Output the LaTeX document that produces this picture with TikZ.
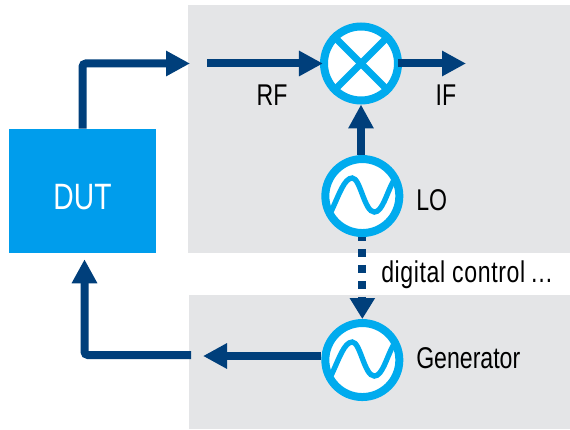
\documentclass[tikz,border=0pt]{standalone}
\usepackage{fontspec}
\setmainfont[FakeStretch=0.77]{Liberation Sans}
\usetikzlibrary{arrows.meta,automata,positioning}
\definecolor{panelgray}{HTML}{E4E5E7}
\definecolor{dutblue}{HTML}{009DEC}
\definecolor{ringblue}{HTML}{00ABEE}
\definecolor{linknavy}{HTML}{003F7B}
\newcommand{\sinewave}[1]{
	\begin{scope}[shift={(#1)}]
		\draw[wave] (-31,-15) .. controls (-23,2) and (-18,18) .. (-10,18) .. controls (-2,18) and (2,-16) .. (12,-16) .. controls (20,-16) and (24,2) .. (31,15);
	\end{scope}
}

\begin{document}
\begin{tikzpicture}[x=0.75pt,y=0.75pt,>={Triangle[length=18pt,width=18pt]},auto,node distance=99.4pt]
	\tikzstyle{every state}=[circle, draw=ringblue, fill=white, line width=6pt, minimum size=55.5pt, inner sep=0pt]
	\tikzstyle{every edge}=[draw=linknavy, line width=6pt, ->]
	\tikzstyle{link}=[draw=linknavy, line width=6pt, ->, rounded corners=2.5pt]
	\tikzstyle{panel}=[rectangle, fill=panelgray, anchor=north west, inner sep=0pt]
	\tikzstyle{cross}=[draw=ringblue, line width=5.25pt]
	\tikzstyle{wave}=[draw=ringblue, line width=4pt]
	\tikzstyle{label}=[text=black, font=\fontsize{22.5}{27}\selectfont, inner sep=0pt]
	
	\useasboundingbox (0,0) rectangle (570,429);
	
	\node[panel, minimum width=286.5pt, minimum height=186pt] (top) at (188,424) {};
	\node[panel, minimum width=285.75pt, minimum height=100.5pt] (bottom) at (189,134) {};
	
	\node[rectangle, fill=dutblue, text=white, minimum width=110.25pt, minimum height=93pt, inner sep=0pt, text height=27pt, text depth=0pt, font=\fontsize{27.5}{30}\selectfont] (dut) at (82.5,238) {DUT};
	
	\node[state] (mix) at (361,365.5) {};
	\node[state] (lo) [below of=mix, xshift=1pt] {};
	\node[state] (gen) [below of=lo, node distance=123pt] {};
	
	\draw[cross] (mix.45) -- (mix.225);
	\draw[cross] (mix.135) -- (mix.315);
	\sinewave{lo}
	\sinewave{gen}
	
	\coordinate (rfout) at (190,365.5);
	\coordinate (rfin) at (207,365.5);
	\coordinate (ifout) at (466,365.5);
	\coordinate (genout) at (203,73);
	\coordinate (dutin) at (191,74);
	
	\draw[link] (dut.north) |- (rfout);
	\path (rfin) edge[shorten >=-2.2pt] (mix);
	\path (mix) edge[shorten <=-3pt] (ifout);
	\path (lo.north -| mix) edge (mix.south);
	\path (lo.south) edge[dash pattern=on 6pt off 6pt, dash phase=3.2pt, >={Triangle[length=15.75pt,width=18pt]}] (gen.north);
	\path (gen.west |- genout) edge (genout);
	\draw[link] (dutin) -| ([xshift=1.5pt,yshift=-4.5pt]dut.south);
	
	\node[label] (rf) at (272,334) {RF};
	\node[label] (if) at (446,334) {IF};
	\node[label, anchor=west] (lolabel) at (416,229) {LO};
	\node[label, anchor=west] (ctrl) at (381,154) {\addfontfeature{LetterSpace=2}digital control\,…};
	\node[label, anchor=west] (genlabel) at (416,71) {Generator};
\end{tikzpicture}
\end{document}
